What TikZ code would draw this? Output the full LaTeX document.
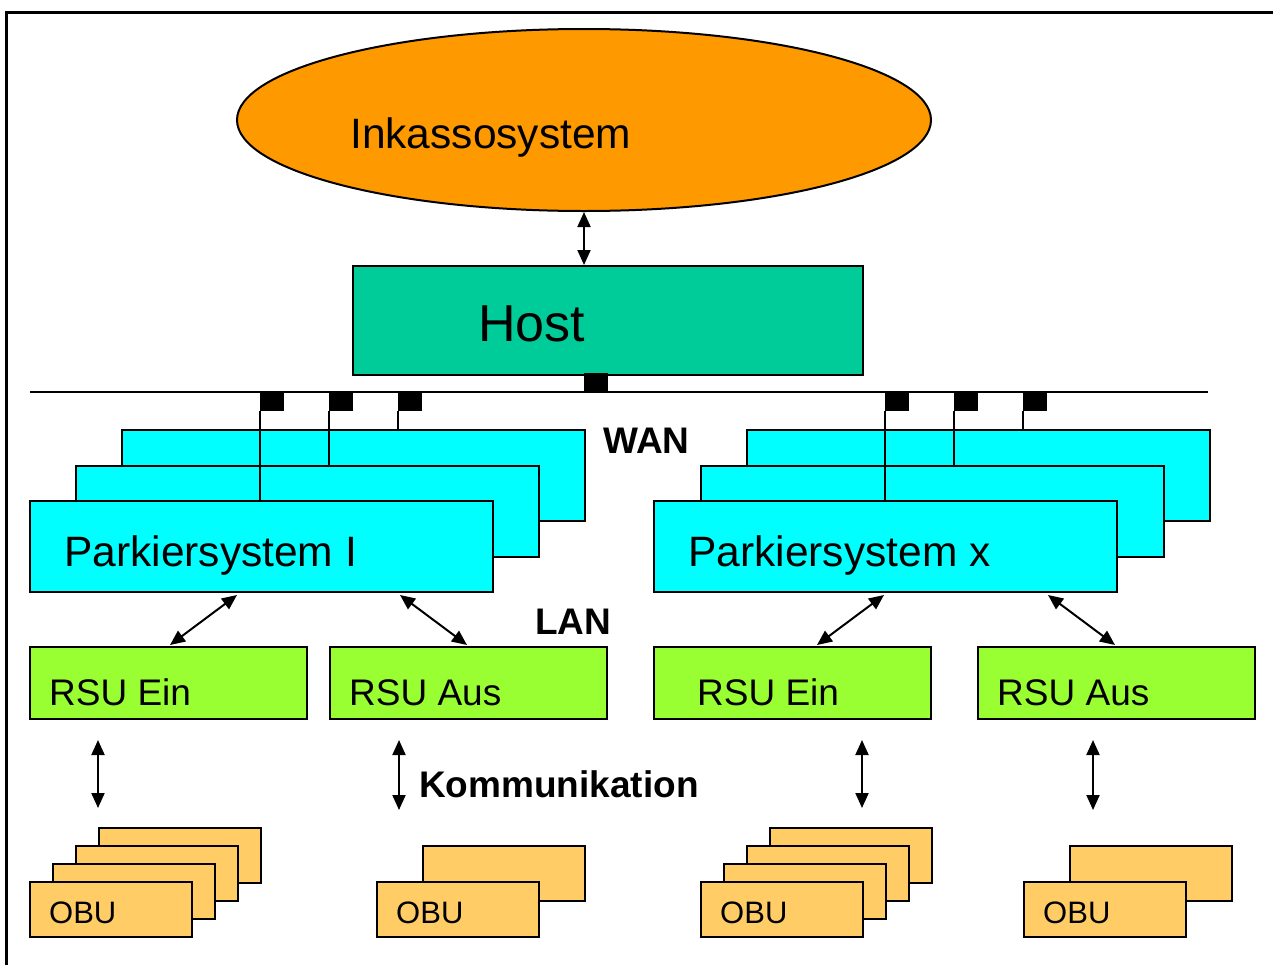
\documentclass[tikz,border=0pt]{standalone}
\usepackage{fontspec}
\setmainfont{Liberation Sans}
\usetikzlibrary{arrows.meta,calc,shapes.geometric}
\definecolor{orangeC}{HTML}{FF9900}
\definecolor{hostC}{HTML}{00CC99}
\definecolor{cyanC}{HTML}{00FFFF}
\definecolor{rsuC}{HTML}{99FF33}
\definecolor{obuC}{HTML}{FFCC66}
\tikzset{
  box/.style={draw=black, line width=2pt, inner sep=0pt, anchor=north west},
  pbox/.style={box, fill=cyanC, minimum width=463pt, minimum height=91pt},
  rsubox/.style={box, fill=rsuC, minimum width=277pt, minimum height=72pt},
  obubox/.style={box, fill=obuC, minimum width=162pt, minimum height=55pt},
  port/.style={fill=black, inner sep=0pt, minimum width=24pt, minimum height=19pt, anchor=north west},
  dbl/.style={line width=2pt, {Triangle[length=15pt,width=13pt]}-{Triangle[length=15pt,width=13pt]}},
  txt/.style={anchor=base west, inner sep=0pt},
  bigtxt/.style={txt, font=\fontsize{42.5}{50}\selectfont},
  rsutxt/.style={txt, font=\fontsize{37}{42}\selectfont},
  obutxt/.style={txt, font=\fontsize{31}{36}\selectfont},
  boldtxt/.style={txt, font=\fontsize{37}{42}\selectfont\bfseries},
}
\begin{document}
\begin{tikzpicture}[x=1pt,y=-1pt]
\useasboundingbox (0,0) rectangle (1273,964);
% frame
\coordinate (fbl) at (6,966);
\coordinate (ftl) at (6,12);
\coordinate (ftr) at (1275,12);
\draw[line width=3pt] (fbl) -- (ftl) -- (ftr);

% Inkassosystem
\node[ellipse, draw=black, line width=2pt, fill=orangeC, minimum width=694pt, minimum height=182pt, inner sep=0pt] (ink) at (584,120) {};
\node[bigtxt] (inktxt) at (350,148) {Inkassosystem};

% Host
\node[box, fill=hostC, minimum width=510pt, minimum height=109pt] (host) at (352,265) {};
\node[txt, font=\fontsize{52}{60}\selectfont] (hosttxt) at (478,341) {Host};
\draw[dbl] (ink.south) -- (ink.south |- host.north);

% WAN bus
\coordinate (busL) at (30,392);
\coordinate (busR) at (1208,392);
\draw[line width=2pt] (busL) -- (busR);
\node[port, anchor=south west] (hport) at (584,392) {};

% left Parkiersystem stack
\node[pbox] (pl3) at (121,429) {};
\node[pbox] (pl2) at (75,465) {};
\node[pbox] (pl1) at (29,500) {};
\node[bigtxt] at (64,566) {Parkiersystem I};
\node[port] (lp1) at (260,392) {};
\node[port] (lp2) at (329,392) {};
\node[port] (lp3) at (398,392) {};
\draw[line width=2pt] (lp1.south west) -- (lp1.west |- pl1.north);
\draw[line width=2pt] (lp2.south west) -- (lp2.west |- pl2.north);
\draw[line width=2pt] (lp3.south west) -- (lp3.west |- pl3.north);

% right Parkiersystem stack
\node[pbox] (pr3) at (746,429) {};
\node[pbox] (pr2) at (700,465) {};
\node[pbox] (pr1) at (653,500) {};
\node[bigtxt] at (688,566) {Parkiersystem x};
\node[port] (rp1) at (885,392) {};
\node[port] (rp2) at (954,392) {};
\node[port] (rp3) at (1023,392) {};
\draw[line width=2pt] (rp1.south west) -- (rp1.west |- pr1.north);
\draw[line width=2pt] (rp2.south west) -- (rp2.west |- pr2.north);
\draw[line width=2pt] (rp3.south west) -- (rp3.west |- pr3.north);

\node[boldtxt] (wan) at (603,453) {WAN};
\node[boldtxt] (lan) at (535,634) {LAN};

% RSU boxes
\node[rsubox] (r1) at (29,646) {};
\node[rsubox] (r2) at (329,646) {};
\node[rsubox] (r3) at (653,646) {};
\node[rsubox] (r4) at (977,646) {};
\node[rsutxt] at (49,705) {RSU Ein};
\node[rsutxt] at (349,705) {RSU Aus};
\node[rsutxt] at (697,705) {RSU Ein};
\node[rsutxt] at (997,705) {RSU Aus};

% LAN arrows
\draw[dbl] ($(pl1.south west)+(208,2)$) -- ($(r1.north west)+(141,-1)$);
\draw[dbl] ($(pl1.south west)+(371,2)$) -- ($(r2.north west)+(138,-1)$);
\draw[dbl] ($(pr1.south west)+(231,2)$) -- ($(r3.north west)+(164,-1)$);
\draw[dbl] ($(pr1.south west)+(395,2)$) -- ($(r4.north west)+(138,-1)$);

% OBU stacks
\node[obubox] (o1d) at (98,827) {};
\node[obubox] (o1c) at (75,845) {};
\node[obubox] (o1b) at (52,863) {};
\node[obubox] (o1a) at (29,881) {};
\node[obutxt] at (49,923) {OBU};

\node[obubox] (o2b) at (422,845) {};
\node[obubox] (o2a) at (376,881) {};
\node[obutxt] at (396,923) {OBU};

\node[obubox] (o3d) at (769,827) {};
\node[obubox] (o3c) at (746,845) {};
\node[obubox] (o3b) at (723,863) {};
\node[obubox] (o3a) at (700,881) {};
\node[obutxt] at (720,923) {OBU};

\node[obubox] (o4b) at (1069,845) {};
\node[obubox] (o4a) at (1023,881) {};
\node[obutxt] at (1043,923) {OBU};

% Kommunikation arrows
\draw[dbl] ($(r1.south west)+(69,20)$) -- ($(o1d.north west)+(0,-19)$);
\draw[dbl] ($(r2.south west)+(70,20)$) -- ($(r2.south west)+(70,90)$);
\draw[dbl] ($(r3.south west)+(209,20)$) -- ($(o3d.north west)+(93,-19)$);
\draw[dbl] ($(r4.south west)+(116,20)$) -- ($(r4.south west)+(116,90)$);
\node[boldtxt] (komm) at (419,797) {Kommunikation};
\end{tikzpicture}
\end{document}
